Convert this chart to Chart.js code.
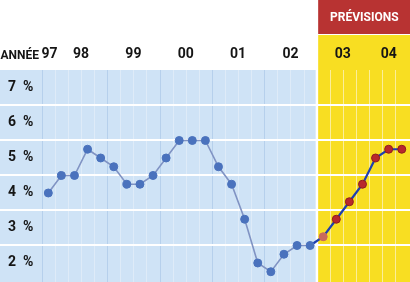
<!DOCTYPE html>
<html>
<head>
<meta charset="utf-8">
<script src="https://cdn.jsdelivr.net/npm/chart.js@4.4.0/dist/chart.umd.min.js"></script>
<style>
  html, body { margin: 0; padding: 0; background: #fff; }
  #wrap { width: 410px; height: 282px; }
</style>
</head>
<body>
<div id="wrap"><canvas id="taux"></canvas></div>
<script>
// taux trimestriels, T4 1997 -> T3 2004 (les derniers sont des prévisions)
var taux = [4.0, 4.5, 4.5, 5.25, 5.0, 4.75, 4.25, 4.25, 4.5, 5.0, 5.5, 5.5, 5.5, 4.75,
            4.25, 3.25, 2.0, 1.75, 2.25, 2.5, 2.5, 2.75, 3.25, 3.75, 4.25, 5.0, 5.25, 5.25];
var debutPrevisions = 21;
var annees = ['ANNÉE', '97', '98', '99', '00', '01', '02', '03', '04'];
var anneesPos = [-2.18, 0.1, 2.5, 6.5, 10.5, 14.5, 18.5, 22.5, 26];
var pourcentages = [2, 3, 4, 5, 6, 7];
var lignesH = [2.5, 3.5, 4.5, 5.5, 6.5];
var debutsAnnee = [-0.5, 4.5, 8.5, 12.5, 16.5];

var police = "Roboto, 'Liberation Sans', sans-serif";

function sansMarge(s) {
    s.paddingLeft = 0;
    s.paddingRight = 0;
    s.paddingTop = 0;
    s.paddingBottom = 0;
}

var fonds = {
    id: 'fonds',
    beforeDraw: function(chart) {
        var c = chart.ctx, a = chart.chartArea, x = chart.scales.x;
        var limite = x.getPixelForValue(debutPrevisions - 0.5);
        c.save();
        c.fillStyle = '#cfe3f6';
        c.fillRect(a.left, a.top, limite - 1 - a.left, a.bottom - a.top);
        c.fillStyle = '#f8de22';
        c.fillRect(limite + 1.5, 35, a.right - limite, a.bottom - 35);
        c.fillStyle = '#b83332';
        c.fillRect(limite + 1.5, 0, a.right - limite, 34);

        // lignes verticales (une par trimestre)
        for (var i = 0; i < taux.length; i++) {
            var v = i - 0.5;
            if (v === debutPrevisions - 0.5) continue;
            var px = Math.round(x.getPixelForValue(v)) + 0.5;
            if (v < debutPrevisions) {
                c.strokeStyle = debutsAnnee.indexOf(v) >= 0 ? '#b6d0ec' : '#deebf8';
            } else {
                c.strokeStyle = '#fbee9a';
            }
            c.lineWidth = 1;
            c.beginPath();
            c.moveTo(px, a.top);
            c.lineTo(px, a.bottom);
            c.stroke();
        }

        c.fillStyle = '#ffffff';
        c.font = 'bold 12px ' + police;
        c.textAlign = 'center';
        c.textBaseline = 'middle';
        c.fillText('PRÉVISIONS', (limite + a.right) / 2 + 1, 18);
        c.restore();
    }
};

var ticksY = pourcentages.concat(lignesH).sort(function(a, b) { return a - b; });

new Chart(document.getElementById('taux'), {
    type: 'line',
    data: {
        datasets: [{
            data: taux.map(function(v, i) { return {x: i, y: v}; }),
            borderWidth: 1.6,
            tension: 0,
            segment: {
                borderColor: function(ctx) {
                    return ctx.p0DataIndex >= debutPrevisions - 1 ? '#1d3fb0' : '#8093c3';
                },
                borderWidth: function(ctx) {
                    return ctx.p0DataIndex >= debutPrevisions - 1 ? 2.2 : 1.6;
                }
            },
            pointRadius: 4,
            pointBorderWidth: 1,
            pointBackgroundColor: function(ctx) {
                var i = ctx.dataIndex;
                if (i < debutPrevisions) return '#4a72bd';
                if (i === debutPrevisions) return '#c9695c';
                return '#b8282d';
            },
            pointBorderColor: function(ctx) {
                var i = ctx.dataIndex;
                if (i < debutPrevisions) return '#4a72bd';
                if (i === debutPrevisions) return '#c9695c';
                return '#8f1d20';
            }
        }]
    },
    options: {
        responsive: true,
        maintainAspectRatio: false,
        animation: false,
        events: [],
        layout: { padding: 0, autoPadding: false },
        plugins: { legend: { display: false }, tooltip: { enabled: false } },
        scales: {
            x: {
                type: 'linear',
                position: 'top',
                min: -3.69,
                max: 27.63,
                afterFit: function(s) { s.height = 70; sansMarge(s); },
                afterBuildTicks: function(s) {
                    s.ticks = anneesPos.map(function(p) { return {value: p}; });
                },
                grid: { display: false, drawTicks: false },
                border: { display: false },
                ticks: {
                    autoSkip: false,
                    maxRotation: 0,
                    padding: 7,
                    color: '#151515',
                    font: function(ctx) {
                        return { family: police, size: ctx.index === 0 ? 12 : 14, weight: 'bold' };
                    },
                    callback: function(v, i) { return annees[i]; }
                }
            },
            y: {
                type: 'linear',
                position: 'left',
                min: 1.457,
                max: 7.514,
                afterFit: function(s) { s.width = 0; sansMarge(s); },
                afterBuildTicks: function(s) {
                    s.ticks = ticksY.map(function(v) { return {value: v}; });
                },
                grid: {
                    display: true,
                    drawOnChartArea: true,
                    drawTicks: false,
                    lineWidth: 2,
                    color: ticksY.map(function(v) { return v % 1 ? '#ffffff' : 'rgba(255,255,255,0)'; })
                },
                border: { display: false },
                ticks: {
                    autoSkip: false,
                    mirror: true,
                    padding: 8,
                    color: '#151515',
                    font: { family: police, size: 14, weight: 'bold' },
                    callback: function(v) { return v % 1 === 0 ? v + '  %' : ''; }
                }
            }
        }
    },
    plugins: [fonds]
});
</script>
</body>
</html>
